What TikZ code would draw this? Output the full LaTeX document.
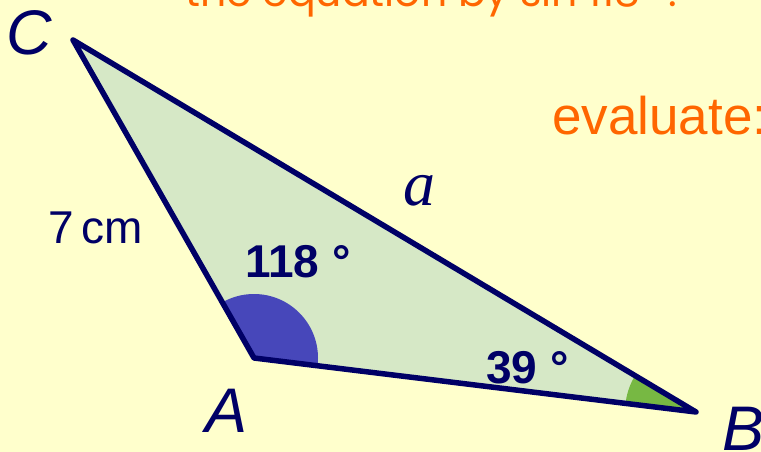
\documentclass[tikz,border=0pt]{standalone}
\usepackage{fontspec}
\setmainfont{Liberation Sans}
\newfontfamily\serifit{Liberation Serif}
\newfontfamily\geofont{Poppins}
\definecolor{bgc}{HTML}{FFFFCC}
\definecolor{trifill}{HTML}{D6E8C6}
\definecolor{navy}{HTML}{000066}
\definecolor{angblue}{HTML}{4747BA}
\definecolor{anggreen}{HTML}{77B843}
\definecolor{orng}{HTML}{FF6600}
\tikzset{
  vlabel/.style={text=navy, font=\fontsize{63}{63}\selectfont\itshape, inner sep=0pt},
  anglabel/.style={text=navy, font=\fontsize{46}{46}\selectfont\bfseries, inner sep=0pt},
  sidelabel/.style={text=navy, inner sep=0pt},
  slidetext/.style={text=orng, inner sep=0pt},
  triedge/.style={draw=navy, line width=5.5pt, line join=round},
}
\begin{document}
\begin{tikzpicture}[x=1pt,y=-1pt]
\fill[bgc] (0,0) rectangle (761,452);
\useasboundingbox (0,0) rectangle (761,452);
\coordinate (A) at (254,358);
\coordinate (B) at (696,412);
\coordinate (C) at (73,40);
\fill[trifill] (A) -- (B) -- (C) -- cycle;
\begin{scope}
  \clip (A) -- (B) -- (C) -- cycle;
  \fill[angblue] (A) circle[radius=64];
  \fill[anggreen] (B) circle[radius=71];
\end{scope}
\draw[triedge] (A) -- (B) -- (C) -- cycle;
\node[slidetext, anchor=base west, font=\geofont\fontsize{41}{41}\selectfont] (t1) at (185,7) {the equation by sin 118° :};
\node[slidetext, anchor=base west, font=\fontsize{53}{53}\selectfont] (t2) at (552,135) {evaluate:};
\node[vlabel, anchor=base west] (lc) at (6,55) {C};
\node[vlabel, anchor=base west] (la) at (205,432) {A};
\node[vlabel, anchor=base west] (lb) at (722,450) {B};
\node[sidelabel, anchor=base west, font=\serifit\itshape\fontsize{64}{64}\selectfont] (lsa) at (403,205) {a};
\node[sidelabel, anchor=base west, font=\fontsize{46}{46}\selectfont] (l7) at (48,243) {7\,cm};
\node[anglabel, anchor=base west] (l118) at (245,277) {118 °};
\node[anglabel, anchor=base west] (l39) at (486,383) {39 °};
\end{tikzpicture}
\end{document}
